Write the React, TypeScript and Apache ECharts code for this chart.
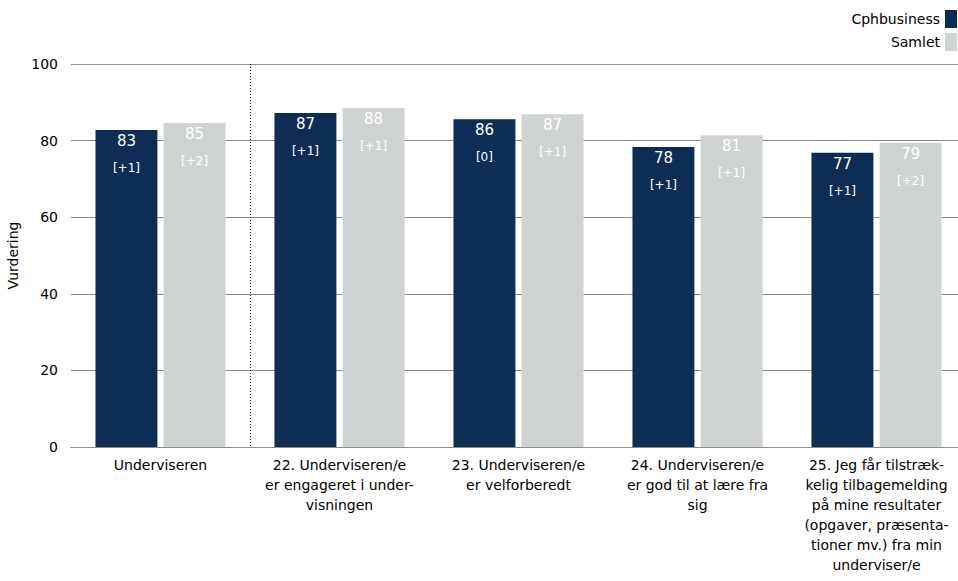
import React, { useEffect, useRef } from "react";
import * as echarts from "echarts";

const categories = [
  "Underviseren",
  "22. Underviseren/e\ner engageret i under-\nvisningen",
  "23. Underviseren/e\ner velforberedt",
  "24. Underviseren/e\ner god til at lære fra\nsig",
  "25. Jeg får tilstræk-\nkelig tilbagemelding\npå mine resultater\n(opgaver, præsenta-\ntioner mv.) fra min\nunderviser/e",
];
const cphValues = [82.8, 87.2, 85.6, 78.3, 76.8];
const samletValues = [84.6, 88.5, 86.9, 81.4, 79.4];
const cphLabels = ["83", "87", "86", "78", "77"];
const samletLabels = ["85", "88", "87", "81", "79"];
const cphChanges = ["[+1]", "[+1]", "[0]", "[+1]", "[+1]"];
const samletChanges = ["[+2]", "[+1]", "[+1]", "[+1]", "[+2]"];
const yTicks = [0, 20, 40, 60, 80, 100];

const FONT = "DejaVu Sans";

export default function App() {
  const ref = useRef<HTMLDivElement>(null);
  useEffect(() => {
    if (!ref.current) return;
    document.body.style.margin = "0";
    document.body.style.overflow = "hidden";
    const chart = echarts.init(ref.current, null, { renderer: "svg" });
    const mkLabel = (labels: string[], changes: string[]) => ({
      show: true,
      position: "insideTop",
      distance: 1,
      formatter: (p: any) => `{v|${labels[p.dataIndex]}}\n{c|${changes[p.dataIndex]}}`,
      rich: {
        v: { color: "#ffffff", fontSize: 15, fontFamily: FONT, lineHeight: 20 },
        c: { color: "#ffffff", fontSize: 12, fontFamily: FONT, lineHeight: 34 },
      },
    });
    chart.setOption({
      animation: false,
      textStyle: { fontFamily: FONT },
      legend: {
        orient: "vertical",
        right: 1,
        top: 10,
        padding: 0,
        align: "right",
        itemWidth: 12,
        itemHeight: 18,
        itemGap: 5,
        icon: "rect",
        textStyle: { fontSize: 14, color: "#000", fontFamily: FONT },
        data: ["Cphbusiness", "Samlet"],
      },
      grid: {
        left: 71,
        width: 895,
        top: 64,
        bottom: 134,
        containLabel: false,
        outerBoundsMode: "none",
      },
      xAxis: {
        type: "category",
        data: categories,
        axisLine: { lineStyle: { color: "#8c8c8c", width: 1 } },
        axisTick: { show: false },
        axisLabel: {
          interval: 0,
          color: "#000",
          fontSize: 14,
          fontFamily: FONT,
          lineHeight: 20,
          margin: 8,
        },
        splitLine: { show: false },
      },
      yAxis: {
        type: "value",
        min: yTicks[0],
        max: yTicks[yTicks.length - 1],
        interval: 20,
        name: "Vurdering",
        nameLocation: "middle",
        nameGap: 49,
        nameTextStyle: { color: "#000", fontSize: 14, fontFamily: FONT },
        axisLine: { show: false },
        axisTick: { show: false },
        axisLabel: { color: "#000", fontSize: 14, fontFamily: FONT, margin: 13 },
        splitLine: { lineStyle: { color: "#8c8c8c", width: 1 } },
      },
      series: [
        {
          name: "Cphbusiness",
          type: "bar",
          data: cphValues,
          barWidth: "34.6%",
          barGap: "10%",
          itemStyle: { color: "#0d2d55" },
          label: mkLabel(cphLabels, cphChanges),
        },
        {
          name: "Samlet",
          type: "bar",
          data: samletValues,
          barWidth: "34.6%",
          itemStyle: { color: "#d0d3d3" },
          label: mkLabel(samletLabels, samletChanges),
        },
      ],
    });
    const c0 = chart.convertToPixel({ xAxisIndex: 0 }, 0) as number;
    const c1 = chart.convertToPixel({ xAxisIndex: 0 }, 1) as number;
    const xs = (c0 + c1) / 2;
    const yTop = chart.convertToPixel({ yAxisIndex: 0 }, yTicks[yTicks.length - 1]) as number;
    const yBot = chart.convertToPixel({ yAxisIndex: 0 }, yTicks[0]) as number;
    chart.setOption({
      graphic: [
        {
          type: "line",
          shape: { x1: Math.round(xs) + 0.5, y1: yTop, x2: Math.round(xs) + 0.5, y2: yBot },
          style: { stroke: "#222", lineWidth: 1, lineDash: [1, 2] },
          z: 1,
        },
      ],
    });
    return () => chart.dispose();
  }, []);
  return <div ref={ref} style={{ width: 958, height: 581, position: "absolute", left: 0, top: 0 }} />;
}
